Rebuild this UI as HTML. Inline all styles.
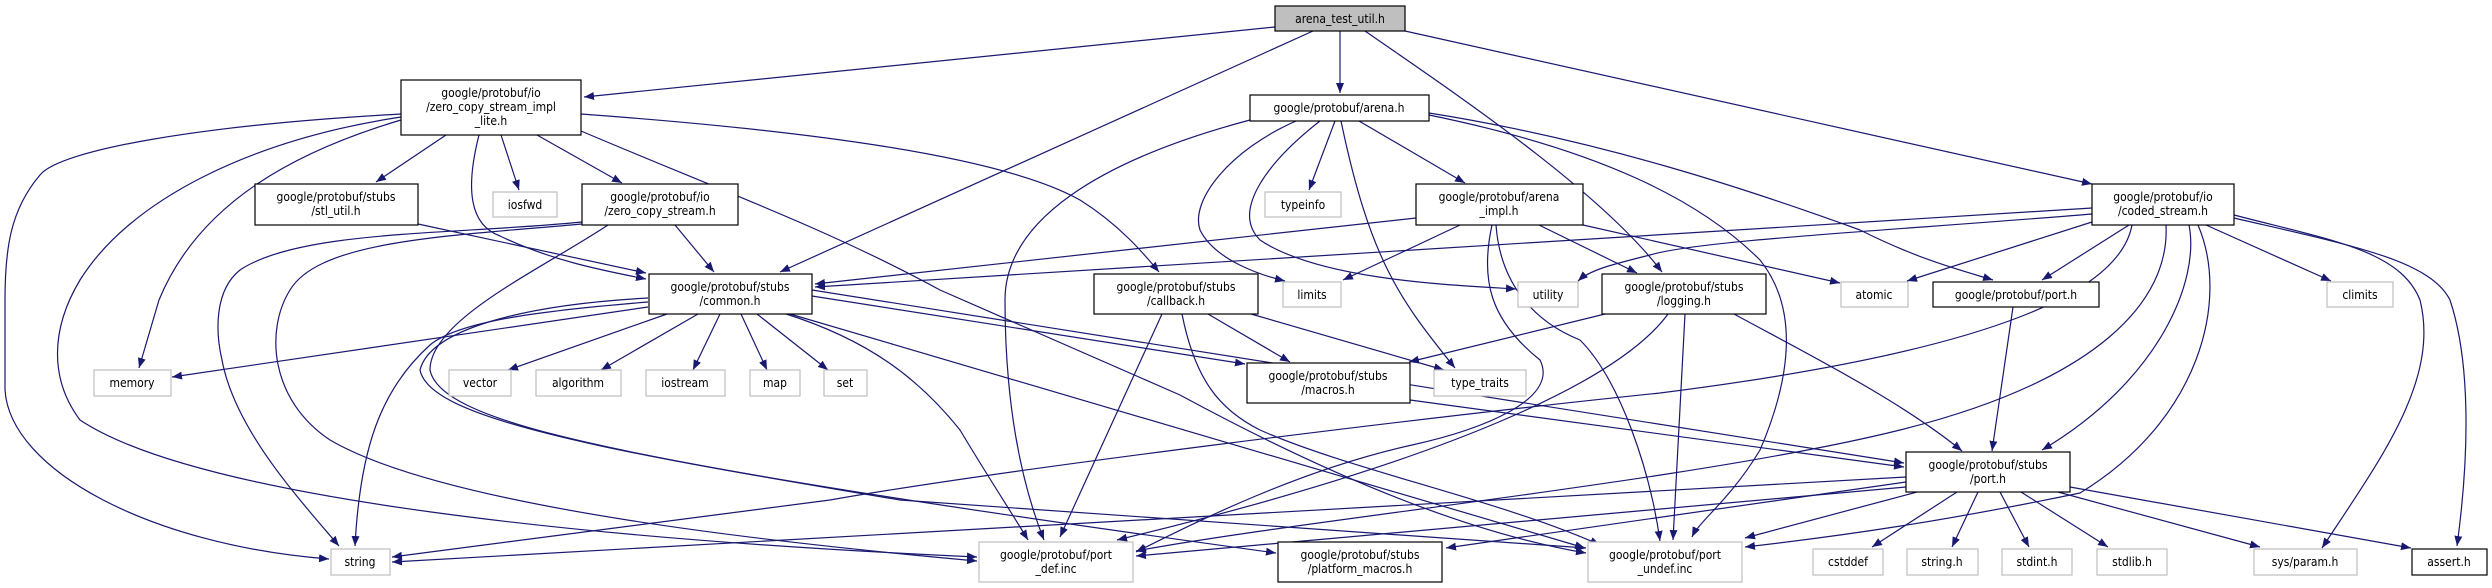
<!DOCTYPE html>
<html><head><meta charset="utf-8"><style>
html,body{margin:0;padding:0;background:#fff;}
svg{display:block;}
text{font-family:"DejaVu Sans Condensed","DejaVu Sans","Liberation Sans",sans-serif;font-size:12px;fill:#000;text-anchor:middle;}
.e{fill:none;stroke:#191970;stroke-width:1.2;marker-end:url(#a);}
.n{fill:#fff;stroke:#000;stroke-width:1.2;}
.g{fill:#fff;stroke:#bfbfbf;stroke-width:1.2;}
</style></head><body>
<svg width="2492" height="588" viewBox="0 0 2492 588" xmlns="http://www.w3.org/2000/svg">
<defs><marker id="a" markerUnits="userSpaceOnUse" markerWidth="11" markerHeight="8" refX="10" refY="4" orient="auto"><path d="M0,0 L10,4 L0,8 z" fill="#191970"/></marker></defs>
<g>
<!-- from test -->
<path class="e" d="M1275,27 L584,97"/>
<path class="e" d="M1313,31 L780,272"/>
<path class="e" d="M1340,31 L1340,93"/>
<path class="e" d="M1365,31 C1450,90 1600,190 1662,272"/>
<path class="e" d="M1405,31 L2092,184"/>
<!-- lite -->
<path class="e" d="M446,135 L376,182"/>
<path class="e" d="M501,135 L519,190"/>
<path class="e" d="M537,135 L622,183"/>
<path class="e" d="M479,135 C465,190 470,225 500,236 C550,260 600,270 646,279"/>
<path class="e" d="M401,114 C200,125 60,150 40,175 C10,210 5,250 5,300 L5,390 C10,470 150,545 329,559"/>
<path class="e" d="M401,120 C300,150 200,200 159,300 L139,368"/>
<path class="e" d="M401,117 C250,140 130,200 80,280 C50,330 50,380 80,420 C200,500 600,540 977,557"/>
<path class="e" d="M581,114 C800,130 1000,155 1080,200 C1120,225 1145,255 1159,272"/>
<path class="e" d="M581,131 C720,190 830,230 940,290 L1180,395 C1300,460 1450,530 1586,553"/>
<!-- zcs -->
<path class="e" d="M582,222 C450,235 300,230 240,270 C215,290 215,330 222,360 C235,430 300,500 339,546"/>
<path class="e" d="M582,224 C450,236 320,240 290,290 C265,330 270,400 330,440 C450,510 800,545 977,561"/>
<path class="e" d="M675,225 L714,272"/>
<path class="e" d="M608,225 C540,270 430,320 430,370 C440,420 600,450 900,500 L1586,548"/>
<path class="e" d="M418,224 L646,273"/>
<!-- common -->
<path class="e" d="M648,307 L172,377"/>
<path class="e" d="M667,314 L508,370"/>
<path class="e" d="M698,314 L601,370"/>
<path class="e" d="M720,314 L693,370"/>
<path class="e" d="M741,314 L767,370"/>
<path class="e" d="M757,314 L828,370"/>
<path class="e" d="M648,302 C550,310 460,320 430,345 C380,390 360,450 355,546"/>
<path class="e" d="M648,298 C520,305 430,330 420,370 C430,420 600,460 1276,553"/>
<path class="e" d="M783,313 C870,340 920,380 960,430 C990,480 1010,510 1028,540"/>
<path class="e" d="M790,314 L1585,548"/>
<path class="e" d="M812,296 L1245,364"/>
<path class="e" d="M812,290 L1904,463"/>
<path class="e" d="M1410,400 L1904,467"/>
<!-- callback -->
<path class="e" d="M1208,314 L1290,362"/>
<path class="e" d="M1251,314 L1444,370"/>
<path class="e" d="M1162,314 L1060,537"/>
<path class="e" d="M1182,314 C1195,380 1220,410 1260,430 C1350,470 1500,500 1600,545"/>
<!-- arena -->
<path class="e" d="M1335,121 L1309,190"/>
<path class="e" d="M1359,121 L1465,183"/>
<path class="e" d="M1296,121 C1230,150 1190,200 1200,230 C1215,260 1260,275 1285,281"/>
<path class="e" d="M1320,121 C1270,160 1230,210 1260,240 C1320,280 1450,285 1516,289"/>
<path class="e" d="M1341,121 C1370,260 1400,300 1455,368"/>
<path class="e" d="M1250,120 C1100,160 1005,220 1005,300 C1005,400 1020,480 1044,540"/>
<path class="e" d="M1429,113 C1600,140 1750,190 1860,230 C1920,260 1960,270 1993,280"/>
<path class="e" d="M1429,115 C1600,150 1700,200 1760,260 C1800,310 1790,380 1760,450 C1730,500 1700,520 1692,537"/>
<!-- arena_impl -->
<path class="e" d="M1416,218 L815,284"/>
<path class="e" d="M1460,225 L1343,280"/>
<path class="e" d="M1539,225 L1637,273"/>
<path class="e" d="M1583,225 L1840,283"/>
<path class="e" d="M1492,225 C1480,280 1490,320 1540,360 C1560,400 1480,430 1412,445 C1300,470 1200,520 1136,552"/>
<path class="e" d="M1496,225 C1500,280 1530,320 1580,340 C1620,380 1650,470 1660,541"/>
<!-- logging -->
<path class="e" d="M1605,314 L1409,362"/>
<path class="e" d="M1668,314 C1620,380 1450,460 1117,540"/>
<path class="e" d="M1685,314 L1673,540"/>
<path class="e" d="M1734,314 C1800,350 1900,400 1962,451"/>
<!-- coded -->
<path class="e" d="M2092,208 L815,287"/>
<path class="e" d="M2092,214 C1900,230 1700,240 1650,255 C1610,265 1590,270 1578,281"/>
<path class="e" d="M2092,222 L1907,281"/>
<path class="e" d="M2129,225 L2042,280"/>
<path class="e" d="M2206,225 L2331,281"/>
<path class="e" d="M2189,225 C2200,280 2160,380 2042,450"/>
<path class="e" d="M2198,225 C2230,300 2200,420 2080,493 C1950,520 1850,535 1745,547"/>
<path class="e" d="M2132,225 C2120,290 2000,350 1660,393 C1400,420 1000,470 830,500 L392,557"/>
<path class="e" d="M2166,225 C2170,300 2100,380 1900,430 C1700,480 1300,520 1136,551"/>
<path class="e" d="M2234,215 C2330,240 2400,250 2420,300 C2440,380 2380,460 2322,548"/>
<path class="e" d="M2234,218 C2350,245 2430,260 2450,300 C2470,360 2470,450 2457,546"/>
<!-- port.h -->
<path class="e" d="M2013,307 L1992,451"/>
<!-- stubs port -->
<path class="e" d="M1906,477 L392,562"/>
<path class="e" d="M1906,482 L1446,548"/>
<path class="e" d="M1906,487 L1136,556"/>
<path class="e" d="M1917,492 L1745,538"/>
<path class="e" d="M1957,492 L1872,547"/>
<path class="e" d="M1978,492 L1952,547"/>
<path class="e" d="M2000,492 L2029,547"/>
<path class="e" d="M2021,492 L2108,547"/>
<path class="e" d="M2058,492 L2260,547"/>
<path class="e" d="M2070,487 L2411,548"/>
</g>
<g>
<rect x="1275" y="6" width="130" height="25" fill="#bfbfbf" stroke="#000" stroke-width="1.2"/><text x="1340" y="23">arena_test_util.h</text>

<rect class="n" x="401" y="80" width="180" height="55"/><text x="491" y="97">google/protobuf/io</text><text x="491" y="111">/zero_copy_stream_impl</text><text x="491" y="125">_lite.h</text>
<rect class="n" x="255" y="184" width="163" height="41"/><text x="336" y="201">google/protobuf/stubs</text><text x="336" y="215">/stl_util.h</text>
<rect class="g" x="493" y="192" width="64" height="25"/><text x="525" y="209">iosfwd</text>
<rect class="n" x="582" y="184" width="156" height="41"/><text x="660" y="201">google/protobuf/io</text><text x="660" y="215">/zero_copy_stream.h</text>
<rect class="n" x="649" y="274" width="163" height="40"/><text x="730" y="291">google/protobuf/stubs</text><text x="730" y="305">/common.h</text>

<rect class="n" x="1250" y="95" width="179" height="26"/><text x="1339" y="112">google/protobuf/arena.h</text>
<rect class="g" x="1265" y="192" width="76" height="25"/><text x="1303" y="209">typeinfo</text>
<rect class="n" x="1416" y="184" width="167" height="41"/><text x="1499" y="201">google/protobuf/arena</text><text x="1499" y="215">_impl.h</text>
<rect class="n" x="1094" y="274" width="164" height="40"/><text x="1176" y="291">google/protobuf/stubs</text><text x="1176" y="305">/callback.h</text>
<rect class="g" x="1283" y="282" width="58" height="25"/><text x="1312" y="299">limits</text>
<rect class="g" x="1518" y="282" width="60" height="25"/><text x="1548" y="299">utility</text>
<rect class="n" x="1602" y="274" width="164" height="40"/><text x="1684" y="291">google/protobuf/stubs</text><text x="1684" y="305">/logging.h</text>
<rect class="n" x="2092" y="184" width="142" height="41"/><text x="2163" y="201">google/protobuf/io</text><text x="2163" y="215">/coded_stream.h</text>
<rect class="g" x="1841" y="282" width="67" height="25"/><text x="1874" y="299">atomic</text>
<rect class="n" x="1933" y="282" width="166" height="25"/><text x="2016" y="299">google/protobuf/port.h</text>
<rect class="g" x="2327" y="282" width="66" height="25"/><text x="2360" y="299">climits</text>

<rect class="g" x="94" y="370" width="77" height="26"/><text x="132" y="387">memory</text>
<rect class="g" x="449" y="370" width="62" height="26"/><text x="480" y="387">vector</text>
<rect class="g" x="536" y="370" width="85" height="26"/><text x="578" y="387">algorithm</text>
<rect class="g" x="646" y="370" width="79" height="26"/><text x="685" y="387">iostream</text>
<rect class="g" x="750" y="370" width="50" height="26"/><text x="775" y="387">map</text>
<rect class="g" x="824" y="370" width="43" height="26"/><text x="845" y="387">set</text>
<rect class="n" x="1247" y="363" width="163" height="40"/><text x="1328" y="380">google/protobuf/stubs</text><text x="1328" y="394">/macros.h</text>
<rect class="g" x="1434" y="370" width="92" height="26"/><text x="1480" y="387">type_traits</text>
<rect class="n" x="1906" y="452" width="164" height="40"/><text x="1988" y="469">google/protobuf/stubs</text><text x="1988" y="483">/port.h</text>

<rect class="g" x="331" y="549" width="59" height="26"/><text x="360" y="566">string</text>
<rect class="g" x="979" y="542" width="154" height="40"/><text x="1056" y="559">google/protobuf/port</text><text x="1056" y="573">_def.inc</text>
<rect class="n" x="1278" y="542" width="164" height="40"/><text x="1360" y="559">google/protobuf/stubs</text><text x="1360" y="573">/platform_macros.h</text>
<rect class="g" x="1588" y="542" width="154" height="40"/><text x="1665" y="559">google/protobuf/port</text><text x="1665" y="573">_undef.inc</text>
<rect class="g" x="1813" y="549" width="70" height="26"/><text x="1848" y="566">cstddef</text>
<rect class="g" x="1907" y="549" width="71" height="26"/><text x="1942" y="566">string.h</text>
<rect class="g" x="2002" y="549" width="70" height="26"/><text x="2037" y="566">stdint.h</text>
<rect class="g" x="2097" y="549" width="70" height="26"/><text x="2132" y="566">stdlib.h</text>
<rect class="g" x="2254" y="549" width="103" height="26"/><text x="2305" y="566">sys/param.h</text>
<rect class="n" x="2412" y="549" width="75" height="26"/><text x="2449" y="566">assert.h</text>
</g>
</svg>
</body></html>
